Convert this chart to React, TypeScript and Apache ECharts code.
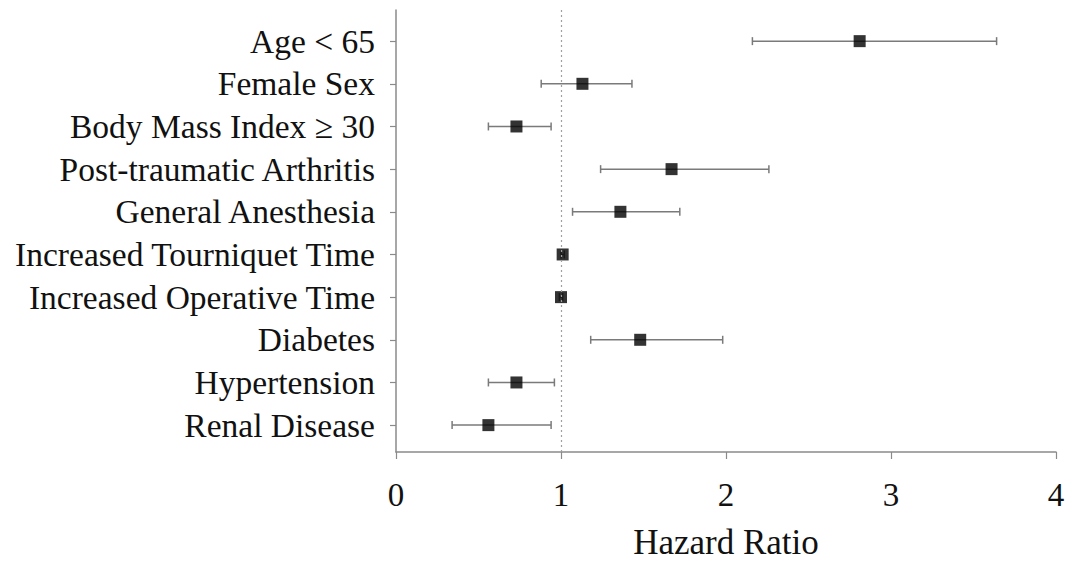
import React, { useEffect, useRef } from "react";
import * as echarts from "echarts";

const categories = [
  "Age < 65",
  "Female Sex",
  "Body Mass Index \u2265 30",
  "Post-traumatic Arthritis",
  "General Anesthesia",
  "Increased Tourniquet Time",
  "Increased Operative Time",
  "Diabetes",
  "Hypertension",
  "Renal Disease",
];
const hazardRatio = [2.81, 1.13, 0.73, 1.67, 1.36, 1.01, 1.0, 1.48, 0.73, 0.56];
const ciLower = [2.16, 0.88, 0.56, 1.24, 1.07, 1.0, 0.99, 1.18, 0.56, 0.34];
const ciUpper = [3.64, 1.43, 0.94, 2.26, 1.72, 1.02, 1.01, 1.98, 0.96, 0.94];
const xTicks = [0, 1, 2, 3, 4];

const FONT = "'Liberation Serif', 'Times New Roman', serif";

export default function App() {
  const ref = useRef<HTMLDivElement>(null);
  useEffect(() => {
    if (!ref.current) return;
    const chart = echarts.init(ref.current, null, { renderer: "svg" });
    const idx = categories.map((_, i) => i);
    chart.setOption({
      animation: false,
      backgroundColor: "#ffffff",
      grid: { left: 396, right: 9, top: 10, bottom: 110, containLabel: false, outerBoundsMode: "none" },
      xAxis: {
        type: "value",
        min: xTicks[0],
        max: xTicks[xTicks.length - 1],
        interval: 1,
        name: "Hazard Ratio",
        nameLocation: "middle",
        nameGap: 73,
        nameTextStyle: { fontFamily: FONT, fontSize: 35, color: "#111", lineHeight: 35 },
        axisLine: { show: true, onZero: false, lineStyle: { color: "#8a8a8a", width: 1.5 } },
        axisTick: { show: true, inside: false, length: 7, lineStyle: { color: "#8a8a8a", width: 1.2 } },
        axisLabel: { fontFamily: FONT, fontSize: 33, color: "#111", margin: 26 },
        splitLine: { show: false },
      },
      yAxis: {
        type: "value",
        inverse: true,
        min: -0.73,
        max: 9.63,
        axisLine: { show: true, onZero: false, lineStyle: { color: "#8a8a8a", width: 1.5 } },
        axisTick: {
          show: true,
          length: 6,
          customValues: idx,
          lineStyle: { color: "#8a8a8a", width: 1.2 },
        },
        axisLabel: {
          customValues: idx,
          fontFamily: FONT,
          fontSize: 33.5,
          color: "#111",
          margin: 21,
          formatter: (v: number) => categories[Math.round(v)] ?? "",
        },
        splitLine: { show: false },
      },
      series: [
        {
          type: "custom",
          data: idx.map((i) => [ciLower[i], ciUpper[i], i]),
          renderItem: (params: any, api: any) => {
            const lo = api.value(0);
            const hi = api.value(1);
            const y = api.value(2);
            const p1 = api.coord([lo, y]);
            const p2 = api.coord([hi, y]);
            const style = { stroke: "#7a7a7a", lineWidth: 1.5 };
            const cap = 4;
            return {
              type: "group",
              children: [
                { type: "line", shape: { x1: p1[0], y1: p1[1], x2: p2[0], y2: p2[1] }, style },
                { type: "line", shape: { x1: p1[0], y1: p1[1] - cap, x2: p1[0], y2: p1[1] + cap }, style },
                { type: "line", shape: { x1: p2[0], y1: p2[1] - cap, x2: p2[0], y2: p2[1] + cap }, style },
              ],
            };
          },
          z: 2,
        },
        {
          type: "scatter",
          data: idx.map((i) => [hazardRatio[i], i]),
          symbol: "rect",
          symbolSize: 12,
          itemStyle: { color: "#000000" },
          z: 3,
          markLine: {
            silent: true,
            symbol: "none",
            label: { show: false },
            lineStyle: { color: "#a0a0a0", type: [2, 3], width: 1.2 },
            data: [{ xAxis: 1 }],
          },
        },
      ],
    });
    return () => chart.dispose();
  }, []);
  return (
    <div
      ref={ref}
      style={{ position: "fixed", left: 0, top: 0, width: 1065, height: 562, background: "#fff" }}
    />
  );
}
